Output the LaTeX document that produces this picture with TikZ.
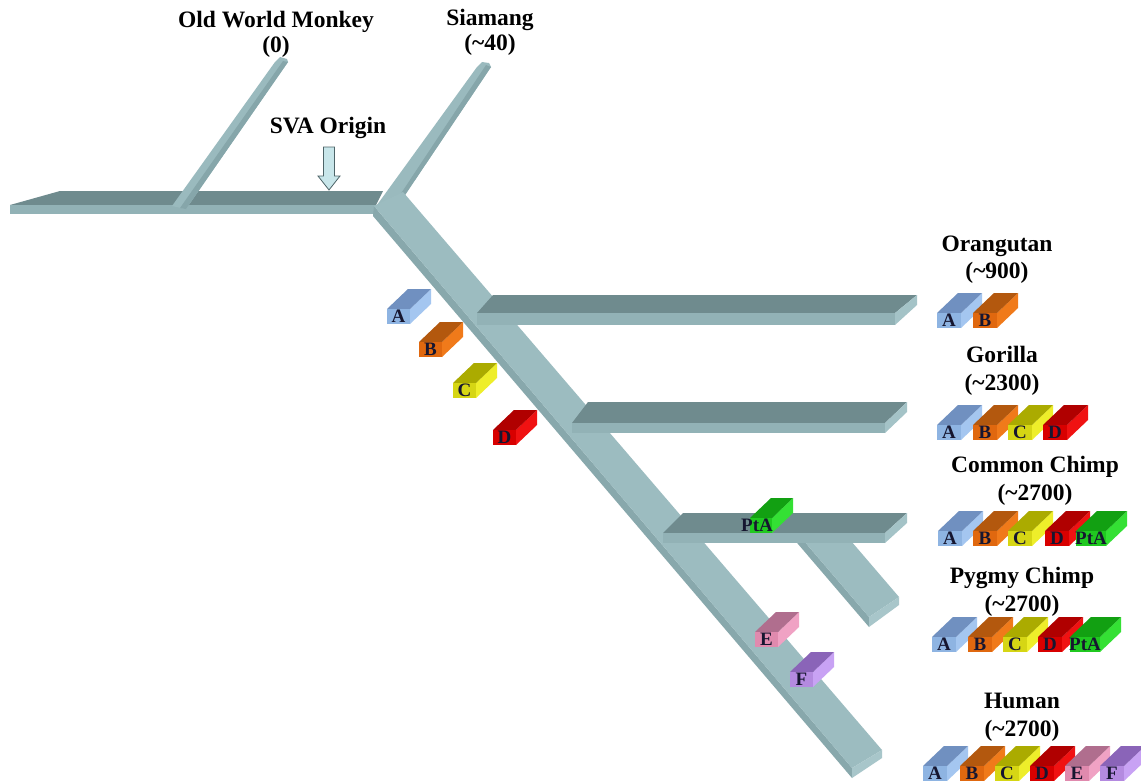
\documentclass[tikz,border=0pt]{standalone}
\usepackage{fontspec}
\setmainfont{Liberation Serif}

% tree surfaces
\definecolor{slabtop}{HTML}{6F8B8E}
\definecolor{slabfront}{HTML}{92B2B6}
\definecolor{slabend}{HTML}{A4C3C7}
\definecolor{trunktop}{HTML}{9CBCC0}
\definecolor{trunkside}{HTML}{88A8AC}
\definecolor{trunkend}{HTML}{A8C6CA}
\definecolor{branchlight}{HTML}{9ABABE}
\definecolor{branchdark}{HTML}{86A6AA}
\definecolor{arrowfill}{HTML}{C8E6EA}
\definecolor{arrowline}{HTML}{4D6468}
\definecolor{labelink}{HTML}{161630}

% insertion blocks: top / front / side shades
\definecolor{cAtop}{HTML}{7090C0}\definecolor{cAfront}{HTML}{8EB4E2}\definecolor{cAside}{HTML}{A4C6F0}
\definecolor{cBtop}{HTML}{B3580E}\definecolor{cBfront}{HTML}{E0680F}\definecolor{cBside}{HTML}{F07A1A}
\definecolor{cCtop}{HTML}{ABAB00}\definecolor{cCfront}{HTML}{D6D614}\definecolor{cCside}{HTML}{EEEE2A}
\definecolor{cDtop}{HTML}{B00000}\definecolor{cDfront}{HTML}{D80000}\definecolor{cDside}{HTML}{F01212}
\definecolor{cPtop}{HTML}{12A012}\definecolor{cPfront}{HTML}{20C820}\definecolor{cPside}{HTML}{34E034}
\definecolor{cEtop}{HTML}{B06E8E}\definecolor{cEfront}{HTML}{E08AAE}\definecolor{cEside}{HTML}{F0A2C4}
\definecolor{cFtop}{HTML}{8A64B8}\definecolor{cFfront}{HTML}{B48AE0}\definecolor{cFside}{HTML}{C8A2F4}

\tikzset{
  taxon/.style={font=\bfseries\fontsize{23.5}{26}\selectfont, anchor=base, inner sep=0pt},
  blocklabel/.style={font=\bfseries\fontsize{19}{20}\selectfont, text=labelink, anchor=base, inner sep=0pt},
}

% block: name, x, y of front bottom-left corner, front width, colour prefix, label, label shift
\newcommand\drawblock[7]{%
  \fill[#5side] (#2+#4,#3) -- ++(0,-15) -- ++(21,-20) -- ++(0,15) -- cycle;
  \fill[#5top] (#2,#3-15) -- ++(#4,0) -- ++(21,-20) -- ++(-#4,0) -- cycle;
  \fill[#5front] (#2,#3) rectangle ++(#4,-15);
  \node[blocklabel] (#1) at (#2+#4/2+#7,#3-1.5) {#6};
}

\begin{document}
\begin{tikzpicture}[x=1pt,y=-1pt]
\useasboundingbox (0,0) rectangle (1141,782);
\fill[white] (0,0) rectangle (1141,782);

% stem
\fill[slabtop] (10,205) -- (60,191) -- (383,191) -- (376,205) -- cycle;
\fill[slabfront] (10,205) -- (376,205) -- (376,214) -- (10,214) -- cycle;

% Old World Monkey branch
\fill[branchlight] (172,206) -- (275,62) -- (280,57) -- (287,59) -- (288,62) -- (186,209) -- cycle;
\fill[branchdark] (180,208) -- (283,61) -- (288,62) -- (186,209) -- cycle;

% Siamang branch
\fill[branchlight] (377,205) -- (477,67) -- (482,62) -- (489,63) -- (491,67) -- (405,195) -- cycle;
\fill[branchdark] (398,198) -- (486,65) -- (491,67) -- (405,195) -- cycle;

% trunk
\fill[trunkside] (374,206) -- (852,768) -- (852,778) -- (373,216) -- cycle;
\fill[trunktop] (374,206) -- (403,192) -- (882,750) -- (852,768) -- cycle;
\fill[trunkend] (852,768) -- (882,750) -- (882,758) -- (852,778) -- cycle;

% Orangutan branch
\fill[slabtop] (477,313) -- (493,295) -- (917,295) -- (895,313) -- cycle;
\fill[slabfront] (477,313) rectangle (895,325);
\fill[slabend] (895,313) -- (917,295) -- (917,305) -- (895,325) -- cycle;

% Gorilla branch
\fill[slabtop] (572,423) -- (588,402) -- (907,402) -- (885,423) -- cycle;
\fill[slabfront] (572,423) rectangle (885,433);
\fill[slabend] (885,423) -- (907,402) -- (907,412) -- (885,433) -- cycle;

% Pygmy Chimp branch
\fill[trunkside] (786,520) -- (869,617) -- (869,627) -- (786,530) -- cycle;
\fill[trunktop] (786,520) -- (833,520) -- (899,597) -- (869,617) -- cycle;
\fill[trunkend] (869,617) -- (899,597) -- (899,605) -- (869,627) -- cycle;

% Common Chimp branch
\fill[slabtop] (663,533) -- (683,513) -- (907,513) -- (885,533) -- cycle;
\fill[slabfront] (663,533) rectangle (885,543);
\fill[slabend] (885,533) -- (907,513) -- (907,523) -- (885,543) -- cycle;

% SVA origin arrow
\filldraw[fill=arrowfill, draw=arrowline, line width=0.8pt]
  (323.5,147) -- (334.5,147) -- (334.5,176) -- (340,176) -- (329,190)
  -- (318,176) -- (323.5,176) -- cycle;

% insertions along the tree
\drawblock{tA}{387}{324}{23}{cA}{A}{0}
\drawblock{tB}{419}{357}{23}{cB}{B}{0}
\drawblock{tC}{453}{398}{23}{cC}{C}{0}
\drawblock{tD}{493}{445}{23}{cD}{D}{0}
\drawblock{tE}{755}{647}{23}{cE}{E}{0}
\drawblock{tF}{790}{687}{23}{cF}{F}{0}
\drawblock{tP}{750}{533}{22}{cP}{PtA}{-4}

% labels
\node[taxon] (owm)  at (276,27) {Old World Monkey};
\node[taxon] (owmn) at (276,52) {(0)};
\node[taxon] (sia)  at (490,25) {Siamang};
\node[taxon] (sian) at (490,50) {(\textasciitilde 40)};
\node[taxon] (sva)  at (328,133) {SVA Origin};
\node[taxon] (ora)  at (997,251) {Orangutan};
\node[taxon] (oran) at (997,278) {(\textasciitilde 900)};
\node[taxon] (gor)  at (1002,362) {Gorilla};
\node[taxon] (gorn) at (1002,390) {(\textasciitilde 2300)};
\node[taxon] (cch)  at (1035,472) {Common Chimp};
\node[taxon] (cchn) at (1035,500) {(\textasciitilde 2700)};
\node[taxon] (pch)  at (1022,583) {Pygmy Chimp};
\node[taxon] (pchn) at (1022,611) {(\textasciitilde 2700)};
\node[taxon] (hum)  at (1022,708) {Human};
\node[taxon] (humn) at (1022,736) {(\textasciitilde 2700)};

% Orangutan set
\drawblock{oA}{937}{328}{24}{cA}{A}{0}
\drawblock{oB}{973}{328}{24}{cB}{B}{0}
% Gorilla set
\drawblock{gA}{937}{440}{24}{cA}{A}{0}
\drawblock{gB}{973}{440}{24}{cB}{B}{0}
\drawblock{gC}{1008}{440}{24}{cC}{C}{0}
\drawblock{gD}{1043}{440}{24}{cD}{D}{0}
% Common Chimp set
\drawblock{cA}{938}{546}{24}{cA}{A}{0}
\drawblock{cB}{973}{546}{24}{cB}{B}{0}
\drawblock{cC}{1008}{546}{24}{cC}{C}{0}
\drawblock{cD}{1045}{546}{24}{cD}{D}{0}
\drawblock{cP}{1076}{546}{30}{cP}{PtA}{0}
% Pygmy Chimp set
\drawblock{pA}{932}{652}{24}{cA}{A}{0}
\drawblock{pB}{968}{652}{24}{cB}{B}{0}
\drawblock{pC}{1003}{652}{24}{cC}{C}{0}
\drawblock{pD}{1038}{652}{24}{cD}{D}{0}
\drawblock{pP}{1070}{652}{30}{cP}{PtA}{0}
% Human set
\drawblock{hA}{923}{781}{24}{cA}{A}{0}
\drawblock{hB}{960}{781}{24}{cB}{B}{0}
\drawblock{hC}{995}{781}{24}{cC}{C}{0}
\drawblock{hD}{1030}{781}{24}{cD}{D}{0}
\drawblock{hE}{1065}{781}{24}{cE}{E}{0}
\drawblock{hF}{1100}{781}{24}{cF}{F}{0}
\end{tikzpicture}
\end{document}
